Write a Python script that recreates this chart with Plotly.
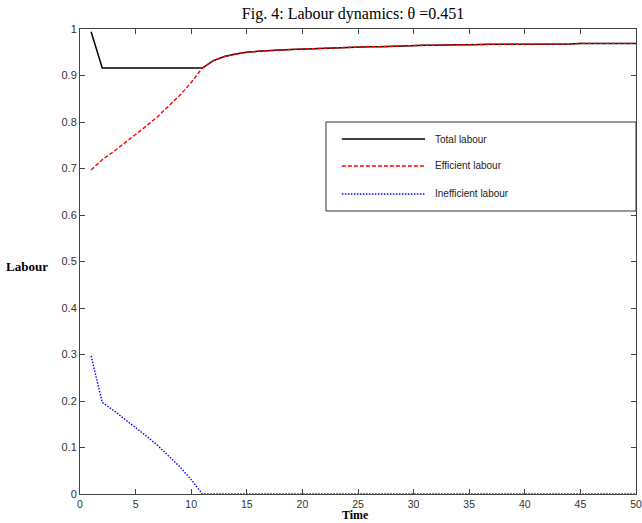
import plotly.graph_objects as go

time = list(range(1, 51))

efficient = [0.697, 0.719, 0.736, 0.754, 0.773, 0.792, 0.812, 0.834, 0.858, 0.885, 0.916,
             0.932, 0.941, 0.946, 0.950, 0.952, 0.954, 0.955, 0.956, 0.957,
             0.958, 0.959, 0.960, 0.960, 0.961, 0.962, 0.962, 0.963, 0.964, 0.964,
             0.965, 0.965, 0.966, 0.966, 0.966, 0.967, 0.967, 0.967, 0.967, 0.968,
             0.968, 0.968, 0.968, 0.968, 0.969, 0.969, 0.969, 0.969, 0.969, 0.969]

inefficient = [0.297, 0.197, 0.180, 0.162, 0.143, 0.124, 0.104, 0.082, 0.058, 0.031, 0.0] + [0.0] * 39

total = [0.994] + [0.916] * 10 + efficient[11:]

series_names = ["Total labour", "Efficient labour", "Inefficient labour"]
x_ticks = list(range(0, 51, 5))
y_ticks = [round(0.1 * i, 1) for i in range(11)]

DASH = "4px,2px"
DOT = "1.5px,1.5px"

fig = go.Figure()
fig.add_trace(go.Scatter(x=time, y=total, mode="lines", name=series_names[0],
                         line=dict(color="black", width=1.5)))
fig.add_trace(go.Scatter(x=time, y=efficient, mode="lines", name=series_names[1],
                         line=dict(color="#ff0000", width=1.4, dash=DASH)))
fig.add_trace(go.Scatter(x=time, y=inefficient, mode="lines", name=series_names[2],
                         line=dict(color="#0000ff", width=1.4, dash=DOT)))

axis_common = dict(showgrid=False, zeroline=False, showline=True, linecolor="#444",
                   linewidth=1, mirror="ticks", ticks="inside", ticklen=5,
                   tickcolor="#444", automargin=False)
tick_font = dict(family="Liberation Sans, Arial", size=11, color="#333")

fig.update_layout(
    width=642, height=523,
    margin=dict(l=80, r=6, t=29, b=29, autoexpand=False),
    paper_bgcolor="white", plot_bgcolor="white",
    showlegend=False,
    title=dict(text="Fig. 4: Labour dynamics: θ =0.451", x=0.55, xanchor="center",
               y=0.975, yanchor="middle",
               font=dict(family="Liberation Serif, Times New Roman", size=16, color="black")),
    xaxis=dict(range=[0, 50], tickvals=x_ticks, ticklabeloverflow="allow",
               tickfont=dict(tick_font, size=10.5), **axis_common),
    yaxis=dict(range=[0, 1], tickvals=y_ticks, tickfont=tick_font, **axis_common),
)

# axis labels
fig.add_annotation(text="<b>Time</b>", xref="paper", yref="paper", x=0.4964, y=-0.0624,
                   xanchor="center", yanchor="bottom", showarrow=False, borderpad=0,
                   font=dict(family="Liberation Serif, Times New Roman", size=12, color="black"))
fig.add_annotation(text="<b>Labour</b>", xref="paper", yref="paper", x=-0.137, y=0.489,
                   xanchor="left", yanchor="middle", showarrow=False,
                   font=dict(family="Liberation Serif, Times New Roman", size=13, color="black"))

# legend box
fig.add_shape(type="rect", xref="paper", yref="paper", x0=0.4424, x1=1.0, y0=0.6086, y1=0.8,
              line=dict(color="#333", width=1), fillcolor="white", layer="above")
legend_rows = [0.7634, 0.7054, 0.6452]
legend_styles = [("black", "solid", 1.5), ("#ff0000", DASH, 1.4), ("#0000ff", DOT, 1.4)]
for name, yy, (c, d, w) in zip(series_names, legend_rows, legend_styles):
    fig.add_shape(type="line", xref="paper", yref="paper", x0=0.471, x1=0.6205, y0=yy, y1=yy,
                  line=dict(color=c, dash=d, width=w), layer="above")
    fig.add_annotation(text=name, xref="paper", yref="paper", x=0.635, y=yy,
                       xanchor="left", yanchor="middle", showarrow=False,
                       font=dict(family="Liberation Sans, Arial", size=10, color="#222"))

fig.write_html("out.html", config={"displayModeBar": False})

with open("out.html", "r", encoding="utf-8") as f:
    html = f.read()
html = html.replace("<head>", "<head><style>html,body{margin:0;padding:0;overflow:hidden;}</style>", 1)
with open("out.html", "w", encoding="utf-8") as f:
    f.write(html)
